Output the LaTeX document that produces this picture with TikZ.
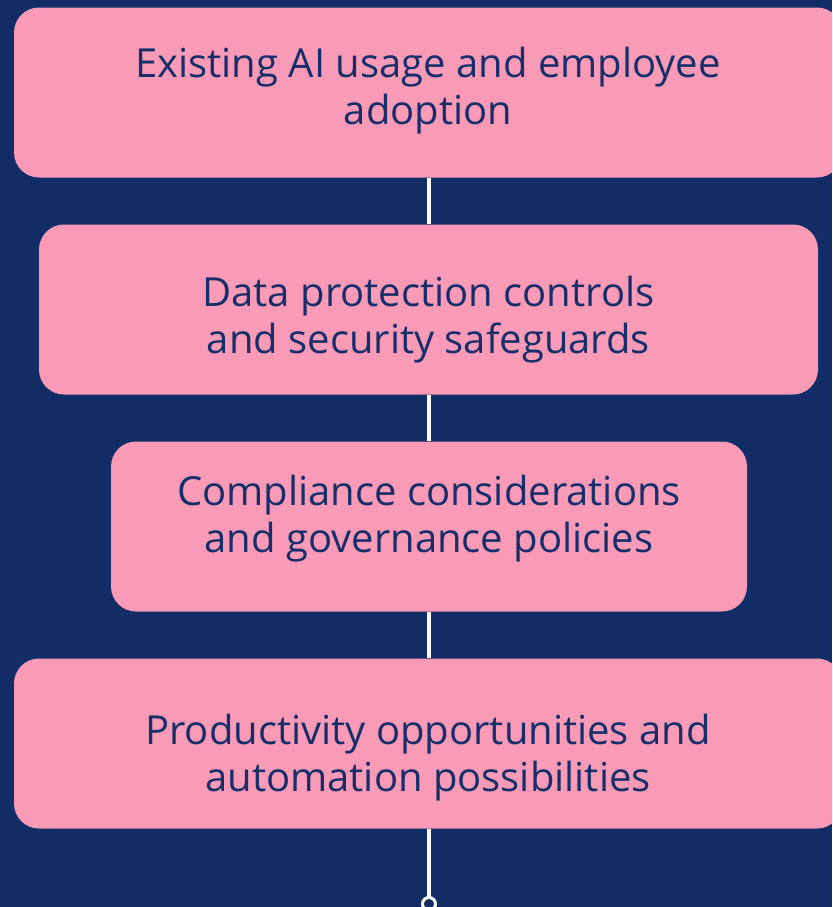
\documentclass[tikz,border=0pt]{standalone}
\usepackage{fontspec}
\setmainfont{Open Sans}
\usetikzlibrary{positioning}
\definecolor{navy}{RGB}{18,45,102}
\definecolor{inknavy}{RGB}{22,46,106}
\definecolor{blush}{RGB}{249,154,182}
\tikzset{
    stage/.style={
        rectangle,
        rounded corners=12.5pt,
        fill=blush,
        minimum height=85pt,
        inner sep=0pt
    },
    stagetext/.style={
        text=inknavy,
        align=center,
        inner sep=0pt,
        font=\fontsize{20}{23.5}\selectfont
    },
    spine/.style={
        draw=white,
        line width=1.85pt
    },
    tailcap/.style={
        circle,
        draw=white,
        fill=navy,
        line width=1.5pt,
        minimum size=6.5pt,
        inner sep=0pt
    }
}

\begin{document}
\begin{tikzpicture}[x=0.5pt, y=-0.5pt]

\fill[navy] (0,0) rectangle (832,907);
\useasboundingbox (0,0) rectangle (832,907);
\clip (0,0) rectangle (832,907);

% boxes
\node[stage, minimum width=414pt] (s1) at (428, 92.5) {};
\node[stage, minimum width=389.5pt] (s2) at (428.5, 309.5) {};
\node[stage, minimum width=318pt] (s3) at (429, 526.5) {};
\node[stage, minimum width=414pt] (s4) at (428, 743.5) {};

% labels
\node[stagetext, yshift=1pt] (t1) at (s1.center)
    {Existing AI usage and employee\\adoption};
\node[stagetext, yshift=-5pt] (t2) at (s2.center)
    {Data protection controls\\and security safeguards};
\node[stagetext, yshift=4pt] (t3) at (s3.center)
    {Compliance considerations\\and governance policies};
\node[stagetext, yshift=-7pt] (t4) at (s4.center)
    {Productivity opportunities and\\automation possibilities};

\coordinate (tail) at (429, 904);

\draw[spine] (s1.south -| tail) -- (s2.north -| tail);
\draw[spine] (s2.south -| tail) -- (s3.north -| tail);
\draw[spine] (s3.south -| tail) -- (s4.north -| tail);
\draw[spine] (s4.south -| tail) -- (tail);
\node[tailcap] (cap) at (tail) {};

\end{tikzpicture}
\end{document}
